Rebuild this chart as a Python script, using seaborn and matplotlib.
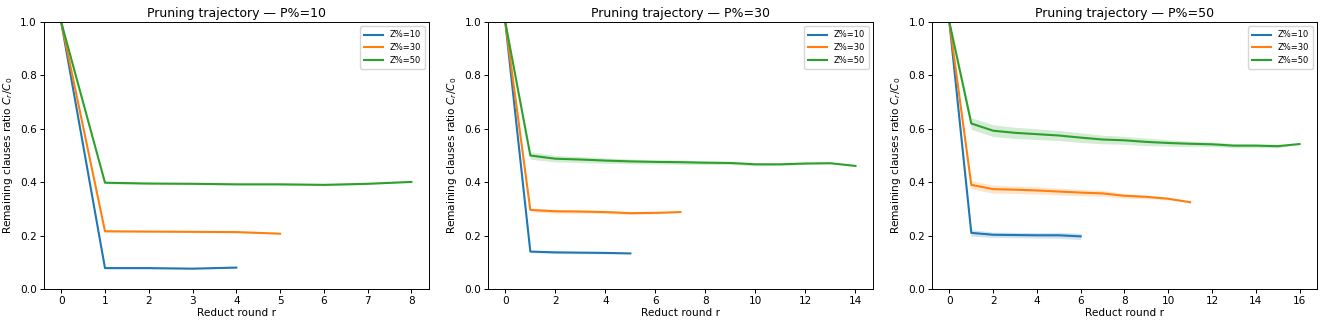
import numpy as np
import matplotlib
matplotlib.use('Agg')
import matplotlib.pyplot as plt
import pandas as pd
import seaborn as sb


# mean ratio C_r/C_0 per reduct round, one list per (P%, Z%)
z_levels = ['Z%=10', 'Z%=30', 'Z%=50']
p_levels = [10, 30, 50]

p10_z10 = [1.0, 0.078, 0.078, 0.076, 0.080]
p10_z30 = [1.0, 0.216, 0.215, 0.214, 0.213, 0.207]
p10_z50 = [1.0, 0.398, 0.395, 0.394, 0.392, 0.392, 0.390, 0.394, 0.401]

p30_z10 = [1.0, 0.140, 0.137, 0.136, 0.135, 0.133]
p30_z30 = [1.0, 0.296, 0.291, 0.290, 0.288, 0.284, 0.285, 0.288]
p30_z50 = [1.0, 0.500, 0.488, 0.485, 0.481, 0.478, 0.476, 0.475, 0.473,
           0.472, 0.467, 0.467, 0.470, 0.471, 0.461]

p50_z10 = [1.0, 0.210, 0.203, 0.202, 0.201, 0.201, 0.197]
p50_z30 = [1.0, 0.390, 0.374, 0.372, 0.369, 0.365, 0.361, 0.358, 0.349,
           0.345, 0.338, 0.325]
p50_z50 = [1.0, 0.620, 0.593, 0.585, 0.580, 0.575, 0.567, 0.560, 0.557,
           0.551, 0.547, 0.544, 0.542, 0.537, 0.537, 0.535, 0.543]

# half width of the shaded band around each mean
p10_z10_ci = [0.0, 0.002, 0.002, 0.002, 0.002]
p10_z30_ci = [0.0, 0.003, 0.003, 0.003, 0.003, 0.0]
p10_z50_ci = [0.0, 0.004, 0.003, 0.003, 0.003, 0.003, 0.003, 0.003, 0.0]

p30_z10_ci = [0.0, 0.004, 0.004, 0.004, 0.004, 0.0]
p30_z30_ci = [0.0, 0.007, 0.007, 0.006, 0.006, 0.005, 0.004, 0.0]
p30_z50_ci = [0.0, 0.014, 0.012, 0.011, 0.010, 0.009, 0.008, 0.008, 0.007,
              0.006, 0.005, 0.004, 0.003, 0.002, 0.0]

p50_z10_ci = [0.0, 0.012, 0.010, 0.010, 0.010, 0.011, 0.012]
p50_z30_ci = [0.0, 0.016, 0.015, 0.014, 0.014, 0.013, 0.012, 0.011, 0.009,
              0.007, 0.005, 0.0]
p50_z50_ci = [0.0, 0.022, 0.022, 0.021, 0.020, 0.019, 0.018, 0.016, 0.015,
              0.014, 0.012, 0.010, 0.009, 0.008, 0.007, 0.006, 0.0]

means = {10: [p10_z10, p10_z30, p10_z50],
         30: [p30_z10, p30_z30, p30_z50],
         50: [p50_z10, p50_z30, p50_z50]}
cis = {10: [p10_z10_ci, p10_z30_ci, p10_z50_ci],
       30: [p30_z10_ci, p30_z30_ci, p30_z50_ci],
       50: [p50_z10_ci, p50_z30_ci, p50_z50_ci]}

rows = []
for p in p_levels:
    for z, m, c in zip(z_levels, means[p], cis[p]):
        for r, (v, e) in enumerate(zip(m, c)):
            rows.append({'P': p, 'Z': z, 'round': r, 'ratio': v,
                         'lo': v - e, 'hi': v + e})
frame = pd.DataFrame(rows)

pal = sb.color_palette('tab10', 3)

fig, axes = plt.subplots(1, 3, figsize=(13.25, 3.25))
for ax, p in zip(axes, p_levels):
    sub = frame.query('P == @p')
    sb.lineplot(data=sub, x='round', y='ratio', hue='Z', hue_order=z_levels,
                palette=pal, errorbar=None, linewidth=1.5, ax=ax)
    for z, col in zip(z_levels, pal):
        s = sub[sub['Z'] == z]
        ax.fill_between(s['round'], s['lo'], s['hi'], color=col,
                        alpha=0.2, linewidth=0)
    ax.set_ylim(0, 1.0)
    ax.yaxis.set_major_locator(matplotlib.ticker.MultipleLocator(0.2))
    ax.xaxis.set_major_locator(matplotlib.ticker.MaxNLocator(integer=True))
    ax.set_title('Pruning trajectory — P%=' + str(p), fontsize=9, pad=4)
    ax.set_xlabel('Reduct round r', fontsize=7.6, labelpad=2)
    ax.set_ylabel('Remaining clauses ratio $C_r/C_0$', fontsize=7.6,
                  labelpad=4)
    ax.tick_params(labelsize=7.6, length=2.8, width=0.7, pad=2)
    for sp in ax.spines.values():
        sp.set_linewidth(0.7)
    ax.legend(title=None, loc='upper right', fontsize=6,
              handlelength=2.2, borderpad=0.5, labelspacing=0.45)

plt.subplots_adjust(left=0.033, right=0.994, bottom=0.111, top=0.932,
                    wspace=0.153)
plt.savefig('out.png', dpi=100)
